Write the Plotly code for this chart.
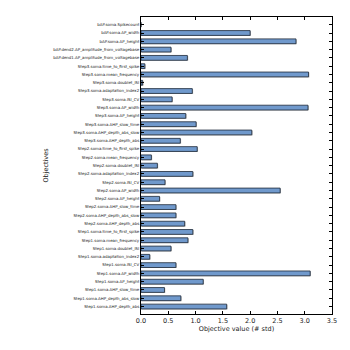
import plotly.graph_objects as go

# objectives, top to bottom as in the picture
objectives = [
    "bAP.soma.Spikecount",
    "bAP.soma.AP_width",
    "bAP.soma.AP_height",
    "bAP.dend2.AP_amplitude_from_voltagebase",
    "bAP.dend1.AP_amplitude_from_voltagebase",
    "Step3.soma.time_to_first_spike",
    "Step3.soma.mean_frequency",
    "Step3.soma.doublet_ISI",
    "Step3.soma.adaptation_index2",
    "Step3.soma.ISI_CV",
    "Step3.soma.AP_width",
    "Step3.soma.AP_height",
    "Step3.soma.AHP_slow_time",
    "Step3.soma.AHP_depth_abs_slow",
    "Step3.soma.AHP_depth_abs",
    "Step2.soma.time_to_first_spike",
    "Step2.soma.mean_frequency",
    "Step2.soma.doublet_ISI",
    "Step2.soma.adaptation_index2",
    "Step2.soma.ISI_CV",
    "Step2.soma.AP_width",
    "Step2.soma.AP_height",
    "Step2.soma.AHP_slow_time",
    "Step2.soma.AHP_depth_abs_slow",
    "Step2.soma.AHP_depth_abs",
    "Step1.soma.time_to_first_spike",
    "Step1.soma.mean_frequency",
    "Step1.soma.doublet_ISI",
    "Step1.soma.adaptation_index2",
    "Step1.soma.ISI_CV",
    "Step1.soma.AP_width",
    "Step1.soma.AP_height",
    "Step1.soma.AHP_slow_time",
    "Step1.soma.AHP_depth_abs_slow",
    "Step1.soma.AHP_depth_abs",
]
values = [
    0.0, 2.00, 2.84, 0.55, 0.85,
    0.07, 3.07, 0.03, 0.94, 0.57, 3.06, 0.82, 1.01, 2.03, 0.72,
    1.03, 0.19, 0.30, 0.95, 0.44, 2.55, 0.34, 0.64, 0.64, 0.80,
    0.95, 0.86, 0.55, 0.16, 0.64, 3.10, 1.14, 0.43, 0.73, 1.57,
]
x_ticks = [0.0, 0.5, 1.0, 1.5, 2.0, 2.5, 3.0, 3.5]

# bottom-up order for the axis
cats = objectives[::-1]
vals = values[::-1]

fig = go.Figure()
# soft grey shadow behind the bars
fig.add_trace(go.Bar(
    x=vals, y=cats, orientation="h", base=0.015,
    width=0.58, offset=-0.36,
    marker=dict(color="#b4b4b4", line=dict(width=0)),
    hoverinfo="skip", showlegend=False,
))
fig.add_trace(go.Bar(
    x=vals, y=cats, orientation="h",
    width=0.58,
    marker=dict(color="#7099cc", line=dict(color="#1e2a38", width=0.8)),
    showlegend=False,
))

fig.update_layout(
    width=350, height=350,
    margin=dict(l=141, r=18, t=17, b=36, autoexpand=False),
    paper_bgcolor="white", plot_bgcolor="white",
    barmode="overlay",
    font=dict(family="DejaVu Sans", color="#222222"),
)
fig.update_xaxes(
    range=[0, 3.5], tickvals=x_ticks,
    ticktext=[f"{v:.1f}" for v in x_ticks],
    ticks="inside", ticklen=3, tickwidth=0.6, tickcolor="black",
    showline=True, linecolor="black", linewidth=1, mirror="ticks",
    showgrid=False, zeroline=False, automargin=False,
    tickfont=dict(size=6.5, color="#222222"),
    title=dict(text="Objective value (# std)", font=dict(size=6.5, color="#222222"), standoff=2),
)
fig.update_yaxes(
    type="category", categoryorder="array", categoryarray=cats,
    range=[-0.9, 34.93],
    ticks="inside", ticklen=3, tickwidth=0.6, tickcolor="black",
    showline=True, linecolor="black", linewidth=1, mirror="ticks",
    showgrid=False, zeroline=False, automargin=False,
    tickfont=dict(size=3.95, color="#222222"),
    title=dict(text="Objectives", font=dict(size=6.5, color="#222222"), standoff=3),
)

# page has a default body margin; drop it so the figure sits at the corner
fig.write_html("out.html", config={"displayModeBar": False},
               post_script="document.body.style.margin='0';")
